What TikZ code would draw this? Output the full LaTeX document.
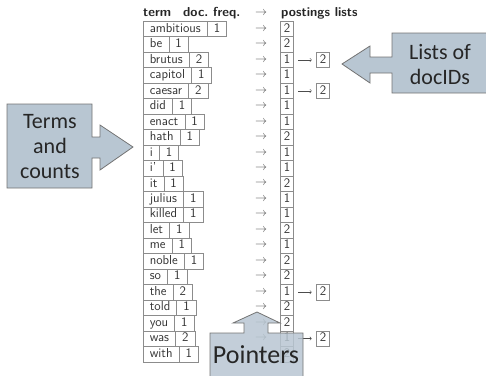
\documentclass[tikz,border=0pt]{standalone}
\usepackage{fontspec}
\newfontfamily\callfont{Carlito}
\usetikzlibrary{positioning}
\definecolor{calloutblue}{HTML}{B8C6D2}

\begin{document}
\begin{tikzpicture}[
  x=1pt, y=-1pt,
  font=\sffamily\fontsize{13}{15}\selectfont,
  cell/.style={draw=black!45, line width=0.6pt, text=black!80, inner xsep=6.5pt, inner ysep=0pt, minimum height=15.5pt, text height=9pt, text depth=2.5pt},
  post/.style={cell, inner xsep=0pt, minimum width=13pt},
  hdr/.style={font=\sffamily\bfseries\fontsize{13}{15}\selectfont, text=black!85, inner sep=0pt, anchor=west},
  ptr/.style={text=black!70, inner sep=0pt},
  callout/.style={draw=black!55, line width=0.8pt, fill=calloutblue},
  calltext/.style={font=\callfont\fontsize{22}{25}\selectfont, align=center, text=black!85}
]
\useasboundingbox (0,0) rectangle (486,375);

\node[hdr] (hterm) at (143,13) {term};
\node[hdr] (hfreq) at (183,13) {doc.\ freq.};
\node[ptr] (harr) at (261,13) {$\rightarrow$};
\node[hdr] (hpost) at (281,13) {postings lists};

\foreach \t/\f/\p [count=\i] in {ambitious/1/2, be/1/2, brutus/2/1, capitol/1/1, caesar/2/1, did/1/1, enact/1/1, hath/1/2, i/1/1, i'/1/1, it/1/2, julius/1/1, killed/1/1, let/1/2, me/1/1, noble/1/2, so/1/2, the/2/1, told/1/2, you/1/2, was/2/1, with/1/2} {
  \node[cell, anchor=west] (t\i) at (143, 13.5+15.48*\i) {\t};
  \node[cell, anchor=west] (f\i) at ([xshift=-0.6pt]t\i.east) {\f};
  \node[ptr] (a\i) at (261, 13.5+15.48*\i) {$\rightarrow$};
  \node[post] (p\i) at (287, 13.5+15.48*\i) {\p};
}

\foreach \i in {3,5,18,21} {
  \node[post] (q\i) at (323, 13.5+15.48*\i) {2};
  \draw[-to, black!70, line width=0.5pt, shorten <=4.5pt, shorten >=4.5pt] (p\i) -- (q\i);
}

% callouts
\draw[callout] (7,104) -- (92,104) -- (92,137) -- (100,137) -- (100,125) -- (133,147) -- (100,170) -- (100,158) -- (92,158) -- (92,188) -- (7,188) -- cycle;
\node[calltext] (terms) at (50,147) {Terms\\and\\counts};

\draw[callout] (495,33) -- (392,33) -- (392,57) -- (370,57) -- (370,46) -- (342,64) -- (370,83) -- (370,73) -- (392,73) -- (392,93) -- (495,93) -- cycle;
\node[calltext] (lists) at (440,65) {Lists of\\docIDs};

\draw[callout, fill opacity=0.85] (257,312) -- (280,323) -- (268,323) -- (268,333) -- (303,333) -- (303,385) -- (210,385) -- (210,333) -- (244,333) -- (244,323) -- (233,323) -- cycle;
\node[calltext, font=\callfont\fontsize{26}{30}\selectfont] (pointers) at (256,355) {Pointers};

\end{tikzpicture}
\end{document}
